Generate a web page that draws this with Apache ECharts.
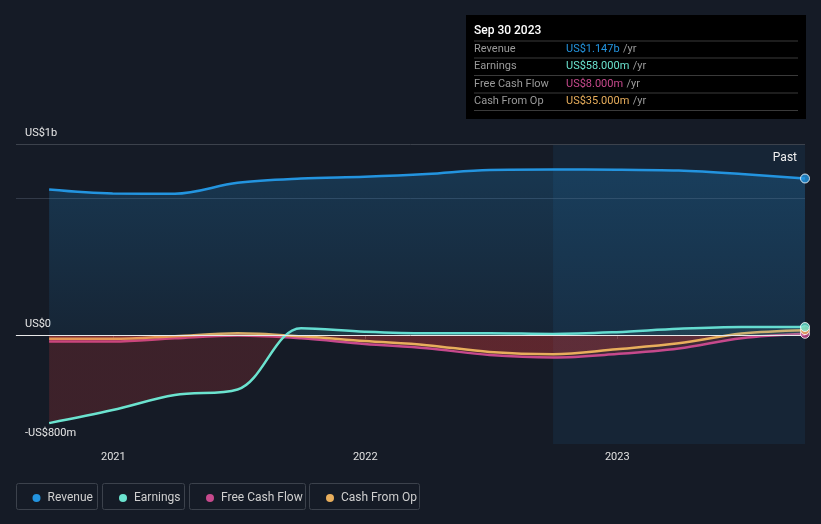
<!DOCTYPE html>
<html>
<head>
<meta charset="utf-8">
<script src="https://cdn.jsdelivr.net/npm/echarts@6/dist/echarts.min.js"></script>
<style>
html,body{margin:0;padding:0;background:#151b26;}
#c{width:821px;height:524px;}
</style>
</head>
<body>
<div id="c"></div>
<script>
// ---- data (US$ millions, trailing twelve months) ----
const dates = ['2020-09-30','2020-12-31','2021-03-31','2021-06-30','2021-09-30','2021-12-31','2022-03-31','2022-06-30','2022-09-30','2022-12-31','2023-03-31','2023-06-30','2023-09-30'];
const revenue  = [1066, 1037, 1035, 1115, 1147, 1160, 1180, 1210, 1213, 1212, 1205, 1180, 1147];
const earnings = [-647, -551, -441, -400, 49, 24, 12, 12, 7, 20, 45, 58, 58];
const fcf      = [-49, -49, -25, -5, -25, -66, -98, -147, -165, -140, -99, -24, 8];
const cfo      = [-29, -29, -10, 12, -10, -45, -75, -125, -142, -105, -62, 10, 35];
const seriesNames = ['Revenue', 'Earnings', 'Free Cash Flow', 'Cash From Op'];
const yTickLabels = {'1400': 'US$1b', '0': 'US$0', '-800': '-US$800m'};
const xRange = ['2020-08-13', '2023-09-30'];
const pastStart = '2022-09-30';
const pastLabel = 'Past';
const tooltipTitle = 'Sep 30 2023';

const colors = {Revenue:'#2394df', Earnings:'#6be3cf', 'Free Cash Flow':'#c6498c', 'Cash From Op':'#e8ae5c'};
const FONT = 'Roboto, "Noto Sans", sans-serif';

function pairs(arr){ return dates.map((d,i)=>[d, arr[i]]); }
function splitGrad(arr, posColor, negColor){
  const mx = Math.max(0, ...arr), mn = Math.min(0, ...arr);
  const off = mx / (mx - mn);
  return new echarts.graphic.LinearGradient(0,0,0,1,[
    {offset:0,color:posColor},{offset:off,color:posColor},
    {offset:off,color:negColor},{offset:1,color:negColor}]);
}
const negRed = 'rgba(225,60,60,0.28)';

function lineSeries(name, arr, area, z){
  return {
    name, type:'line', data:pairs(arr), smooth:0.35, showSymbol:false, z,
    lineStyle:{width:2.5, color:colors[name]},
    itemStyle:{color:colors[name]},
    areaStyle: area, emphasis:{disabled:true}, silent:true
  };
}

const last = dates.length-1;
function fmt(name, v){
  return name === 'Revenue' ? 'US$' + (v/1000).toFixed(3) + 'b' : 'US$' + v.toFixed(3) + 'm';
}
const lastVals = {Revenue:revenue[last], Earnings:earnings[last], 'Free Cash Flow':fcf[last], 'Cash From Op':cfo[last]};

const chart = echarts.init(document.getElementById('c'), null, {renderer:'canvas'});

// tooltip-like box
const tipGraphics = [
  {type:'rect', shape:{x:466,y:15,width:340,height:104}, style:{fill:'#000'}},
  {type:'text', x:474, y:31, style:{text:tooltipTitle, fill:'#fff', font:'500 12px ' + FONT, verticalAlign:'middle'}}
];
const rowY = [49.5, 66.5, 84, 101.5];
const sepY = [41, 58, 75.5, 93, 110.5];
sepY.forEach(y=>tipGraphics.push({type:'line', shape:{x1:474,y1:y,x2:798,y2:y}, style:{stroke:'#3a3a3a', lineWidth:1}}));
seriesNames.forEach((n,i)=>{
  tipGraphics.push({type:'text', x:474, y:rowY[i], style:{text:n, fill:'#9a9a9a', font:'11px ' + FONT, verticalAlign:'middle'}});
  tipGraphics.push({type:'text', x:566, y:rowY[i], style:{
    text:'{v|' + fmt(n, lastVals[n]) + '} {u|/yr}', verticalAlign:'middle',
    rich:{v:{fill:colors[n], font:'11px ' + FONT}, u:{fill:'#9a9a9a', font:'11px ' + FONT}}}});
});
// legend boxes
const legendBoxes = [[16,81],[102,82],[189,116],[309,110]];
legendBoxes.forEach(b=>tipGraphics.push({type:'rect', shape:{x:b[0]+0.5,y:483.5,width:b[1],height:26,r:2}, style:{fill:'none', stroke:'#3c424c', lineWidth:1}}));

const legendLeft = [27.5, 114, 201, 321];
const legends = seriesNames.map((n,i)=>({
  data:[n], left:legendLeft[i], top:487, icon:'circle', itemWidth:8, itemHeight:8, itemGap:0,
  textStyle:{color:'#cfcfcf', fontSize:12, fontFamily:FONT, padding:[0,0,0,2]}, selectedMode:false
}));

chart.setOption({
  backgroundColor:'#151b26',
  animation:false,
  textStyle:{fontFamily:FONT},
  grid:{left:16, right:16, top:144, bottom:80},
  legend: legends,
  xAxis:{
    type:'time', min:xRange[0], max:xRange[1],
    minInterval: 365*24*3600*1000, maxInterval: 366*24*3600*1000,
    axisLine:{lineStyle:{color:'#454b55'}},
    axisTick:{show:true, length:4, lineStyle:{color:'#454b55'}},
    axisLabel:{color:'#e0e0e0', fontSize:11, margin:8, formatter:'{yyyy}', showMinLabel:false, showMaxLabel:false},
    splitLine:{show:false}
  },
  yAxis:{
    type:'value', min:-800, max:1400, interval:200,
    axisLine:{show:false}, axisTick:{show:false}, splitLine:{show:false},
    axisLabel:{inside:true, margin:9, color:'#e6e6e6', fontSize:11, verticalAlign:'bottom', padding:[0,0,5,0],
      formatter:v=>yTickLabels[String(v)] || ''}
  },
  graphic: tipGraphics,
  series:[
    lineSeries('Free Cash Flow', fcf, {color:splitGrad(fcf, 'rgba(198,73,140,0.12)', negRed)}, 2),
    lineSeries('Cash From Op', cfo, {color:splitGrad(cfo, 'rgba(232,174,92,0.12)', negRed)}, 3),
    lineSeries('Earnings', earnings, {color:splitGrad(earnings, 'rgba(107,227,207,0.14)', negRed)}, 4),
    Object.assign(lineSeries('Revenue', revenue, {color:new echarts.graphic.LinearGradient(0,0,0,1,[
      {offset:0,color:'rgba(35,148,223,0.32)'},{offset:1,color:'rgba(35,148,223,0.12)'}])}, 5), {
      markLine:{silent:true, symbol:'none', label:{show:false},
        data:[
          {yAxis:1400, lineStyle:{color:'#3c424c', width:1, type:'solid'}},
          {yAxis:1000, lineStyle:{color:'rgba(80,90,105,0.5)', width:1, type:'solid'}},
          {yAxis:0, lineStyle:{color:'#e8e8e8', width:1, type:'solid'}}
        ]},
      markArea:{silent:true,
        itemStyle:{color:'rgba(35,148,223,0.09)'},
        data:[[{xAxis:pastStart, name:pastLabel,
          label:{show:true, position:'insideTopRight', distance:8, color:'#f0f0f0', fontSize:12, fontFamily:FONT, formatter:pastLabel}},
          {xAxis:dates[last]}]]}
    }),
    {
      type:'scatter', z:10, symbolSize:9, silent:true,
      data:[
        {value:[dates[last], fcf[last]], itemStyle:{color:colors['Free Cash Flow']}},
        {value:[dates[last], cfo[last]], itemStyle:{color:colors['Cash From Op']}},
        {value:[dates[last], earnings[last]], itemStyle:{color:colors['Earnings']}},
        {value:[dates[last], revenue[last]], itemStyle:{color:colors['Revenue']}}
      ],
      itemStyle:{borderColor:'#ffffff', borderWidth:1}
    }
  ]
});
</script>
</body>
</html>
